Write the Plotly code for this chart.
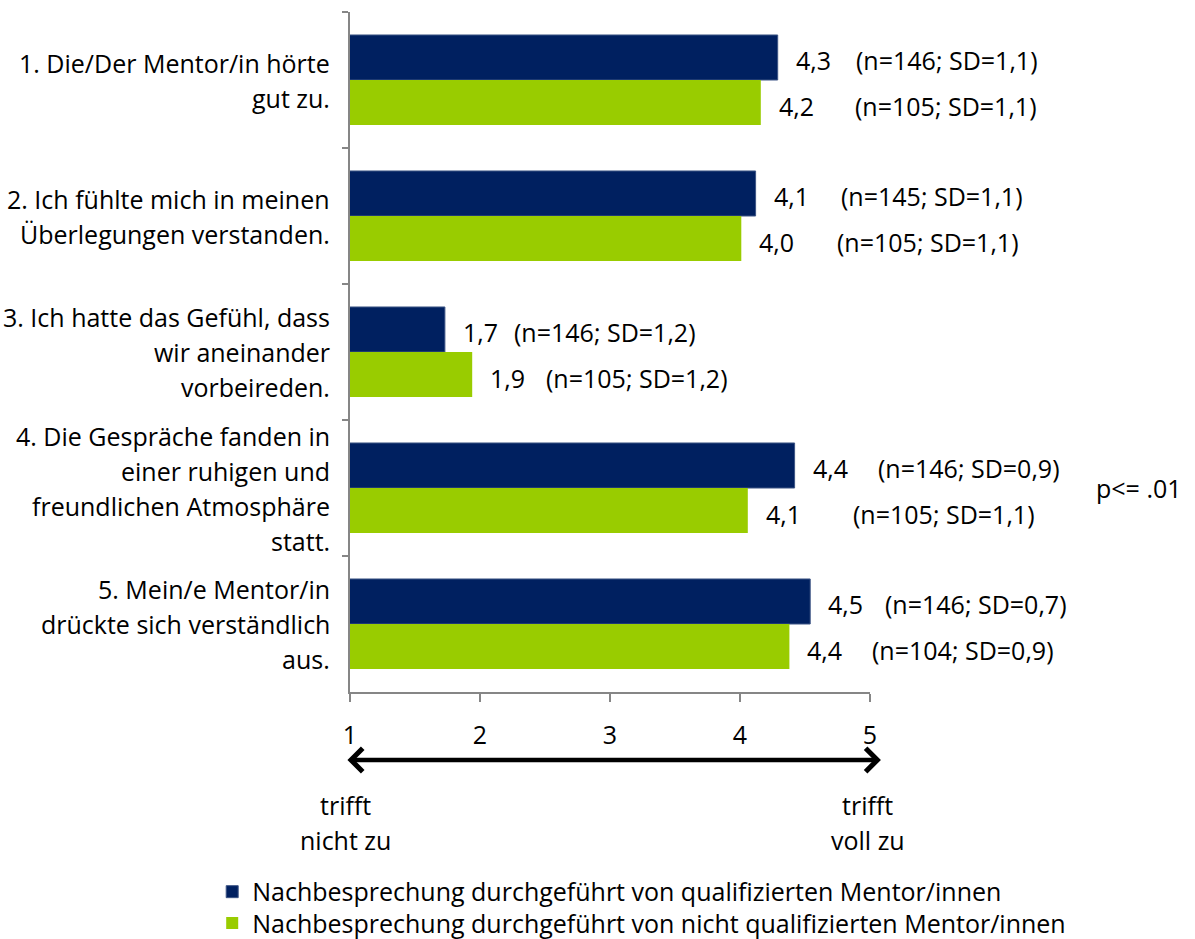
import plotly.graph_objects as go

# ---------------- data ----------------
category_lines = [
    ["1. Die/Der Mentor/in hörte", "gut zu."],
    ["2. Ich fühlte mich in meinen", "Überlegungen verstanden."],
    ["3. Ich hatte das Gefühl, dass", "wir aneinander", "vorbeireden."],
    ["4. Die Gespräche fanden in", "einer ruhigen und", "freundlichen Atmosphäre", "statt."],
    ["5. Mein/e Mentor/in", "drückte sich verständlich", "aus."],
]
categories = [" ".join(l) for l in category_lines]

series_names = [
    "Nachbesprechung durchgeführt von qualifizierten Mentor/innen",
    "Nachbesprechung durchgeführt von nicht qualifizierten Mentor/innen",
]
values_qual = [4.29, 4.12, 1.73, 4.42, 4.54]
values_nonqual = [4.16, 4.01, 1.94, 4.06, 4.38]
n_qual = [146, 145, 146, 146, 146]
sd_qual = [1.1, 1.1, 1.2, 0.9, 0.7]
n_nonqual = [105, 105, 105, 105, 104]
sd_nonqual = [1.1, 1.1, 1.2, 1.1, 0.9]

x_ticks = [1, 2, 3, 4, 5]
scale_low = ["trifft", "nicht zu"]
scale_high = ["trifft", "voll zu"]
p_note = "p<= .01"
p_row = 3  # index of category the note belongs to

# ---------------- style ----------------
FONT = "Open Sans"
FS = 25
BLUE = "#002060"
GREEN = "#99CC00"
AXIS = "#868686"
LINE_H = 35
BARGAP = 0.338
# pixel gap between bar end and the "(n=..; SD=..)" text
gap_qual = [76, 83, 67, 81, 73]
gap_nonqual = [92, 94, 72, 103, 81]


def de(v):
    return f"{v:.1f}".replace(".", ",")


fig = go.Figure()
fig.add_trace(go.Bar(y=categories, x=values_qual, orientation="h", name=series_names[0],
                     marker=dict(color=BLUE, line=dict(color="#3d5585", width=1)),
                     legend="legend"))
fig.add_trace(go.Bar(y=categories, x=values_nonqual, orientation="h", name=series_names[1],
                     marker=dict(color=GREEN, line=dict(width=0)), legend="legend2"))

ann = []


def multiline(lines, x, xref, y, yref, xanchor, xshift=0, base_shift=0):
    n = len(lines)
    for k, t in enumerate(lines):
        off = (k - (n - 1) / 2) * LINE_H
        ann.append(dict(text=t, x=x, xref=xref, y=y, yref=yref, xanchor=xanchor,
                        yanchor="middle", xshift=xshift, yshift=base_shift - off,
                        showarrow=False, font=dict(family=FONT, size=FS, color="black")))


# category labels
for i, lines in enumerate(category_lines):
    multiline(lines, 0, "paper", i, "y", "right", xshift=-18)

half = (1 - BARGAP) / 4
for i in range(len(categories)):
    for vals, ns, sds, gaps, sign in [
        (values_qual, n_qual, sd_qual, gap_qual, -1),
        (values_nonqual, n_nonqual, sd_nonqual, gap_nonqual, 1),
    ]:
        yy = i + sign * half
        ann.append(dict(text=de(vals[i]), x=vals[i], xref="x", y=yy, yref="y",
                        xanchor="left", yanchor="middle", xshift=16, yshift=-3,
                        showarrow=False, font=dict(family=FONT, size=FS, color="black")))
        ann.append(dict(text=f"(n={ns[i]}; SD={de(sds[i])})", x=vals[i], xref="x", y=yy, yref="y",
                        xanchor="left", yanchor="middle", xshift=gaps[i], yshift=-3,
                        showarrow=False, font=dict(family=FONT, size=FS, color="black")))

# p note
ann.append(dict(text=p_note, x=1.517, xref="paper", y=p_row, yref="y", xanchor="center",
                yanchor="middle", showarrow=False, font=dict(family=FONT, size=FS, color="black")))

# double arrow (paper coordinates, below the x axis)
ann.append(dict(x=1.021, y=-0.1, xref="paper", yref="paper",
                ax=-535, ay=0, axref="pixel", ayref="pixel",
                showarrow=True, arrowhead=4, startarrowhead=4, arrowside="end+start",
                arrowsize=1, startarrowsize=1, arrowwidth=4.5, arrowcolor="black", text=""))

# scale end labels
multiline(scale_low, -0.0096, "paper", -0.192, "paper", "center")
multiline(scale_high, 0.996, "paper", -0.192, "paper", "center")

leg_common = dict(x=-0.265, xanchor="left", yanchor="middle",
                  font=dict(family=FONT, size=FS, color="black"), bgcolor="rgba(0,0,0,0)",
                  itemclick=False, itemdoubleclick=False)

fig.update_layout(
    width=1195, height=939,
    margin=dict(l=350, r=325, t=12, b=247, autoexpand=False),
    paper_bgcolor="white", plot_bgcolor="white",
    barmode="group", bargap=BARGAP, bargroupgap=0,
    font=dict(family=FONT, size=FS, color="black"),
    showlegend=True,
    legend=dict(y=-0.294, **leg_common),
    legend2=dict(y=-0.340, **leg_common),
    annotations=ann,
)
fig.update_xaxes(range=[x_ticks[0], x_ticks[-1]], tickvals=x_ticks, ticktext=[str(t) for t in x_ticks],
                 showgrid=False, zeroline=False, showline=True, linecolor=AXIS, linewidth=1.5,
                 ticks="outside", ticklen=8, tickcolor=AXIS, tickwidth=1.5,
                 ticklabelstandoff=12, tickfont=dict(family=FONT, size=FS, color="black"))
fig.update_yaxes(autorange="reversed", showticklabels=False, showgrid=False, zeroline=False,
                 showline=True, linecolor=AXIS, linewidth=1.5, ticks="outside", ticklen=6,
                 tickcolor=AXIS, tickwidth=1.5, tickson="boundaries")

fig.write_html("out.html")
